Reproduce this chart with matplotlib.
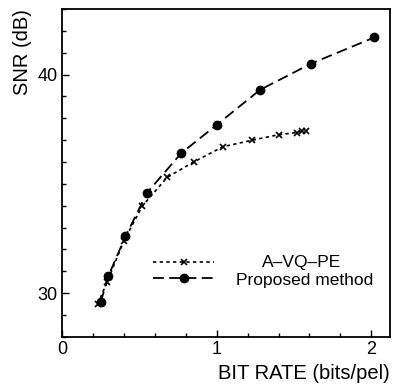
import matplotlib
matplotlib.use('Agg')
import matplotlib.pyplot as plt
from matplotlib.ticker import MultipleLocator

# values
AVQPE_X = [0.23, 0.29, 0.40, 0.52, 0.68, 0.85, 1.04, 1.23, 1.40, 1.52, 1.55, 1.58]
AVQPE_Y = [29.5, 30.5, 32.4, 34.0, 35.3, 36.0, 36.7, 37.0, 37.25, 37.35, 37.4, 37.4]

PROPOSED_X = [0.25, 0.30, 0.41, 0.55, 0.77, 1.00, 1.28, 1.61, 2.02]
PROPOSED_Y = [29.6, 30.8, 32.6, 34.6, 36.4, 37.7, 39.3, 40.5, 41.7]

SERIES_NAMES = ['A\u2013VQ\u2013PE', 'Proposed method']
X_TICKS = [0, 1, 2]
Y_TICKS = [30, 40]

plt.rcParams['font.family'] = ['Liberation Sans', 'DejaVu Sans']

fig = plt.figure(figsize=(3.93, 3.90), dpi=100)
ax = fig.add_axes([0.158, 0.136, 0.834, 0.841])

l1, = ax.plot(AVQPE_X, AVQPE_Y, color='black', linestyle=(0, (2, 2)), linewidth=1.2,
              marker='x', markersize=4, markeredgewidth=1.2)
l2, = ax.plot(PROPOSED_X, PROPOSED_Y, color='black', linestyle=(0, (6, 3)), linewidth=1.3,
              marker='o', markersize=6)

ax.set_xlim(0, 2.12)
ax.set_ylim(28, 43)
ax.set_xticks(X_TICKS)
ax.set_yticks(Y_TICKS)
ax.xaxis.set_minor_locator(MultipleLocator(0.2))
ax.yaxis.set_minor_locator(MultipleLocator(1))
ax.tick_params(which='major', direction='in', length=5, width=1, labelsize=13, pad=3)
ax.tick_params(which='minor', direction='in', length=3, width=1)
for s in ax.spines.values():
    s.set_linewidth(1.3)

ax.set_xlabel('BIT RATE (bits/pel)', fontsize=14.5, loc='right', labelpad=4)
ax.set_ylabel('SNR (dB)', fontsize=14.5, loc='top', labelpad=4)

# legend: line samples on the left, names centred to the right
leg = ax.legend([l1, l2], ['', ''], loc='center left', bbox_to_anchor=(0.277, 0.2),
                frameon=False, fontsize=9, handlelength=4.9, handletextpad=0,
                handleheight=0.7, labelspacing=0.35, borderpad=0, borderaxespad=0)
ax.text(0.732, 0.227, SERIES_NAMES[0], transform=ax.transAxes, ha='center',
        va='center', fontsize=12.5)
ax.text(0.741, 0.173, SERIES_NAMES[1], transform=ax.transAxes, ha='center',
        va='center', fontsize=12.5)

fig.savefig('out.png', dpi=100)
